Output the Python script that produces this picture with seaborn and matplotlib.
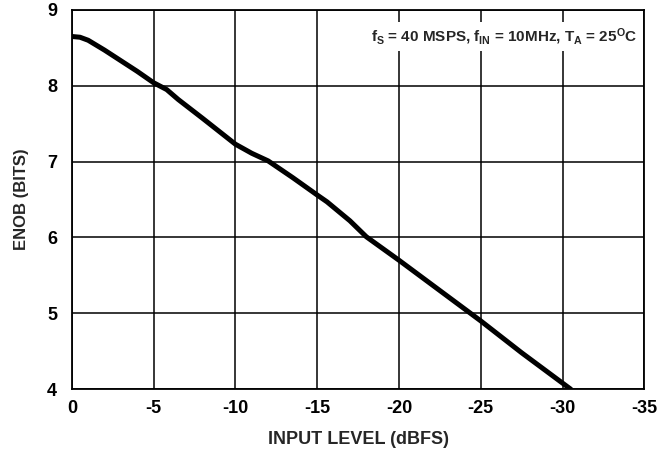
import matplotlib
matplotlib.use("Agg")
import matplotlib.pyplot as plt
import seaborn as sns
import pandas as pd

input_level = [0.0, -0.5, -1.0, -2.0, -3.0, -4.0, -5.0, -5.8, -6.5, -8.0, -10.0, -11.0, -12.0,
               -13.5, -15.0, -15.6, -17.0, -18.0, -20.0, -22.5, -25.0, -27.5, -30.5]
enob = [8.65, 8.64, 8.60, 8.47, 8.33, 8.19, 8.04, 7.95, 7.82, 7.57, 7.23, 7.11, 7.01,
        6.79, 6.56, 6.47, 6.22, 6.01, 5.70, 5.30, 4.90, 4.48, 4.00]
x_ticks = [0, -5, -10, -15, -20, -25, -30, -35]
y_ticks = [4, 5, 6, 7, 8, 9]

sns.set_style("white")
plt.rcParams['font.family'] = ['Liberation Sans', 'DejaVu Sans']
plt.rcParams['font.weight'] = 'bold'
plt.rcParams['mathtext.fontset'] = 'custom'
plt.rcParams['mathtext.rm'] = 'Liberation Sans:bold'
plt.rcParams['mathtext.it'] = 'Liberation Sans:bold'
plt.rcParams['mathtext.bf'] = 'Liberation Sans:bold'

df = pd.DataFrame({"x": input_level, "y": enob})

fig = plt.figure(figsize=(6.65, 4.51), dpi=100)
ax = fig.add_axes([0.108, 0.137, 0.861, 0.841])
sns.lineplot(data=df, x="x", y="y", sort=False, color="black", linewidth=3.6, ax=ax, zorder=3)

ax.set_xlim(0, -35)
ax.set_ylim(4, 9)
ax.set_xticks(x_ticks)
ax.set_xticklabels([str(v) for v in x_ticks])
ax.set_yticks(y_ticks)
ax.grid(True, color="black", linewidth=1.1)
ax.set_axisbelow(True)
for s in ax.spines.values():
    s.set_color("black")
    s.set_linewidth(1.3)
ax.tick_params(axis="both", length=0, labelsize=13, colors="black")
ax.tick_params(axis="x", pad=8)
ax.tick_params(axis="y", pad=10.5)
for lab in ax.get_xticklabels() + ax.get_yticklabels():
    lab.set_fontweight("bold")

ax.set_xlabel("INPUT LEVEL (dBFS)", fontsize=13, fontweight="bold", labelpad=10)
ax.set_ylabel("ENOB (BITS)", fontsize=12, fontweight="bold", labelpad=13)

ax.text(0.988, 0.929, r"$f_{S}$ = 40 MSPS, $f_{IN}$ = 10MHz, $T_{A}$ = 25$^{O}$C",
        transform=ax.transAxes, ha="right", va="center", fontsize=11, fontweight="bold",
        bbox=dict(facecolor="white", edgecolor="none", pad=3), zorder=4)

fig.savefig("out.png", dpi=100)
